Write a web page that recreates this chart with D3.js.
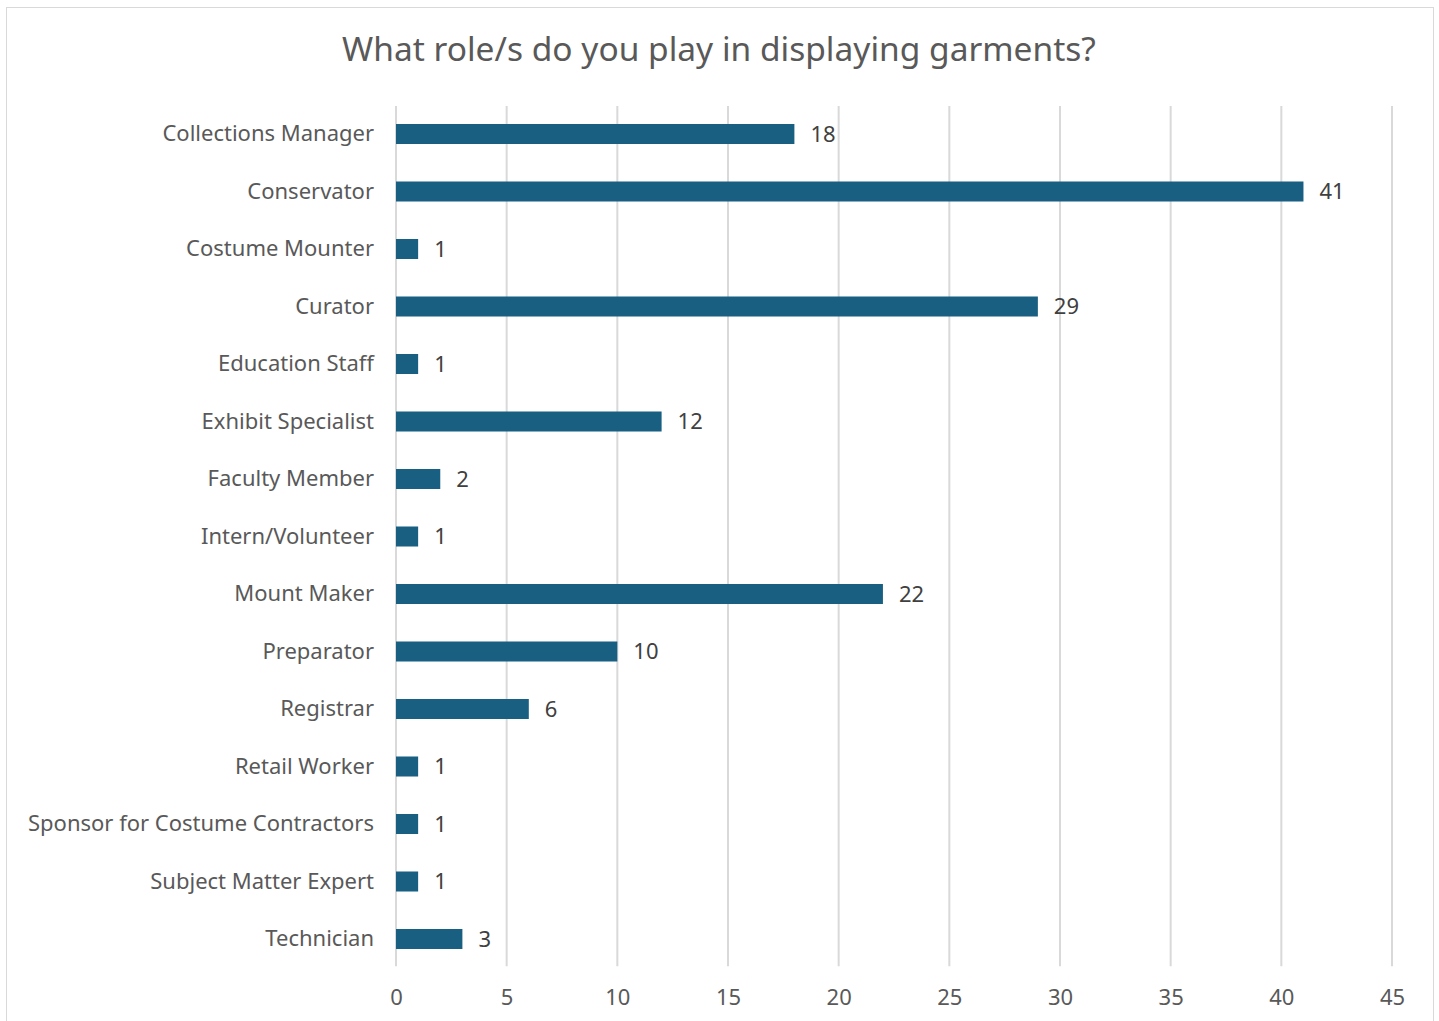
<!DOCTYPE html>
<html>
<head>
<meta charset="utf-8">
<script src="https://cdn.jsdelivr.net/npm/d3@7"></script>
<style>
  body { margin: 0; background: #fff; }
  text { font-family: "Noto Sans", "Open Sans", sans-serif; }
</style>
</head>
<body>
<div id="chart"></div>
<script>
// Data
var roles = ["Collections Manager", "Conservator", "Costume Mounter", "Curator", "Education Staff",
    "Exhibit Specialist", "Faculty Member", "Intern/Volunteer", "Mount Maker", "Preparator",
    "Registrar", "Retail Worker", "Sponsor for Costume Contractors", "Subject Matter Expert", "Technician"];
var counts = [18, 41, 1, 29, 1, 12, 2, 1, 22, 10, 6, 1, 1, 1, 3];
var xTicks = [0, 5, 10, 15, 20, 25, 30, 35, 40, 45];

var data = roles.map((r, i) => ({role: r, value: counts[i]}));

var W = 1439, H = 1021;
var margin = {top: 105.25, right: 47, bottom: 53.25, left: 396};
var width = W - margin.left - margin.right,
    height = H - margin.top - margin.bottom;

var root = d3.select("#chart")
    .append("svg")
    .attr("width", W)
    .attr("height", H);

// chart border
root.append("rect")
    .attr("x", 6.5).attr("y", 7.5)
    .attr("width", 1427).attr("height", 1030)
    .attr("fill", "#fff")
    .attr("stroke", "#d9d9d9")
    .attr("stroke-width", 1);

// Title
root.append("text")
    .attr("x", 719)
    .attr("y", 61)
    .attr("text-anchor", "middle")
    .style("font-size", "33.5px")
    .attr("fill", "#595959")
    .text("What role/s do you play in displaying garments?");

var svg = root.append("g")
    .attr("transform", "translate(" + margin.left + "," + margin.top + ")");

var x = d3.scaleLinear()
    .domain([0, 45])
    .range([0, 996]);

var y = d3.scaleBand()
    .domain(roles)
    .range([0, height])
    .paddingInner(0.652)
    .paddingOuter(0.326);

// Gridlines
svg.append("g")
    .selectAll("line")
    .data(xTicks)
    .enter()
    .append("line")
    .attr("x1", d => x(d))
    .attr("x2", d => x(d))
    .attr("y1", 0.75)
    .attr("y2", height - 1.5)
    .attr("stroke", "#d9d9d9")
    .attr("stroke-width", 2);

// X axis labels
var xAxis = svg.append("g")
    .attr("transform", "translate(0," + height + ")")
    .call(d3.axisBottom(x).tickValues(xTicks).tickSize(0).tickPadding(22));
xAxis.select(".domain").remove();
xAxis.selectAll("text")
    .style("font-size", "22px")
    .style("font-family", "'Noto Sans', 'Open Sans', sans-serif")
    .attr("fill", "#595959");

// Y axis labels
var yAxis = svg.append("g")
    .call(d3.axisLeft(y).tickSize(0).tickPadding(22));
yAxis.select(".domain").remove();
yAxis.selectAll("text")
    .style("font-size", "22px")
    .style("font-family", "'Noto Sans', 'Open Sans', sans-serif")
    .attr("fill", "#595959");

// Bars
svg.append("g")
    .selectAll("rect")
    .data(data)
    .enter()
    .append("rect")
    .attr("x", x(0))
    .attr("y", d => y(d.role))
    .attr("width", d => x(d.value) - x(0))
    .attr("height", y.bandwidth())
    .attr("fill", "#185f82");

// Value labels
svg.append("g")
    .selectAll("text")
    .data(data)
    .enter()
    .append("text")
    .attr("x", d => x(d.value) + 16)
    .attr("y", d => y(d.role) + y.bandwidth() / 2)
    .attr("dy", "0.35em")
    .style("font-size", "22px")
    .attr("fill", "#404040")
    .text(d => d.value);
</script>
</body>
</html>
